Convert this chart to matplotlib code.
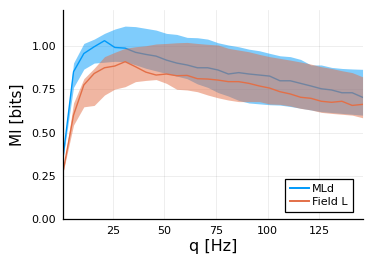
import matplotlib
matplotlib.use("Agg")
import matplotlib.pyplot as plt
import numpy as np

# frequencies sampled every 5 Hz
q = np.arange(1, 147, 5)

# MLd: mean and band limits
mld_mean = [0.365, 0.85, 0.955, 0.994, 1.029, 0.99, 0.986, 0.962, 0.95, 0.94,
            0.917, 0.90, 0.889, 0.873, 0.873, 0.86, 0.837, 0.845, 0.837, 0.831,
            0.825, 0.798, 0.798, 0.783, 0.768, 0.752, 0.745, 0.729, 0.729, 0.703]
mld_hi = [0.37, 0.90, 1.013, 1.038, 1.071, 1.096, 1.113, 1.11, 1.10, 1.09,
          1.071, 1.065, 1.048, 1.046, 1.038, 1.017, 1.004, 0.994, 0.98, 0.971,
          0.956, 0.942, 0.937, 0.921, 0.889, 0.889, 0.875, 0.869, 0.866, 0.864]
mld_lo = [0.36, 0.76, 0.865, 0.90, 0.905, 0.91, 0.908, 0.89, 0.87, 0.855,
          0.84, 0.825, 0.81, 0.78, 0.76, 0.73, 0.71, 0.685, 0.67, 0.665,
          0.66, 0.658, 0.65, 0.64, 0.63, 0.62, 0.615, 0.61, 0.605, 0.60]

# Field L: mean and band limits
fl_mean = [0.278, 0.60, 0.774, 0.84, 0.873, 0.883, 0.908, 0.879, 0.848, 0.831,
           0.837, 0.827, 0.829, 0.81, 0.808, 0.802, 0.793, 0.793, 0.783, 0.768,
           0.756, 0.735, 0.722, 0.703, 0.697, 0.68, 0.674, 0.68, 0.656, 0.662]
fl_hi = [0.28, 0.67, 0.81, 0.87, 0.937, 0.962, 0.985, 0.994, 1.0, 1.01,
         1.013, 1.017, 1.019, 1.013, 1.008, 1.004, 0.985, 0.975, 0.965, 0.95,
         0.937, 0.927, 0.917, 0.906, 0.894, 0.879, 0.869, 0.856, 0.845, 0.821]
fl_lo = [0.275, 0.543, 0.648, 0.656, 0.716, 0.75, 0.764, 0.793, 0.80, 0.805,
         0.783, 0.749, 0.745, 0.735, 0.716, 0.70, 0.687, 0.678, 0.678, 0.678,
         0.664, 0.662, 0.653, 0.639, 0.63, 0.616, 0.61, 0.605, 0.60, 0.585]

xticks = [25, 50, 75, 100, 125]
yticks = [0.0, 0.25, 0.5, 0.75, 1.0]

blue = "#009afa"
orange = "#e36f47"

fig = plt.figure(figsize=(3.74, 2.62), dpi=100)
ax = fig.add_axes([0.169, 0.163, 0.802, 0.799])

# draw in series order: ribbon then line, so the orange ribbon covers the blue line
ax.fill_between(q, mld_lo, mld_hi, color=blue, alpha=0.5, linewidth=0, zorder=2)
ax.plot(q, mld_mean, color=blue, lw=1.0, label="MLd", zorder=3)
ax.fill_between(q, fl_lo, fl_hi, color=orange, alpha=0.5, linewidth=0, zorder=4)
ax.plot(q, fl_mean, color=orange, lw=1.0, label="Field L", zorder=5)

ax.set_xlim(1, 146.3)
ax.set_ylim(0, 1.206)
ax.set_xticks(xticks)
ax.set_yticks(yticks)
ax.set_yticklabels(["%.2f" % v for v in yticks])
ax.grid(True, color="black", alpha=0.08, lw=0.6, zorder=0)
ax.set_axisbelow(True)
for s in ["top", "right"]:
    ax.spines[s].set_visible(False)
for s in ["left", "bottom"]:
    ax.spines[s].set_linewidth(0.9)
    ax.spines[s].set_zorder(6)
ax.tick_params(labelsize=8, length=0, pad=5)
ax.set_xlabel("q [Hz]", fontsize=11.5, labelpad=2)
ax.set_ylabel("MI [bits]", fontsize=11, labelpad=5)

leg = ax.legend(loc="lower right", bbox_to_anchor=(0.965, 0.034), fontsize=8,
                fancybox=False, framealpha=1, edgecolor="black",
                handlelength=1.7, handletextpad=0.3, borderpad=0.45,
                labelspacing=0.3, borderaxespad=0)
leg.get_frame().set_linewidth(0.9)
for h in leg.get_lines():
    h.set_linewidth(1.4)
leg.set_zorder(10)

fig.savefig("out.png", dpi=100)
